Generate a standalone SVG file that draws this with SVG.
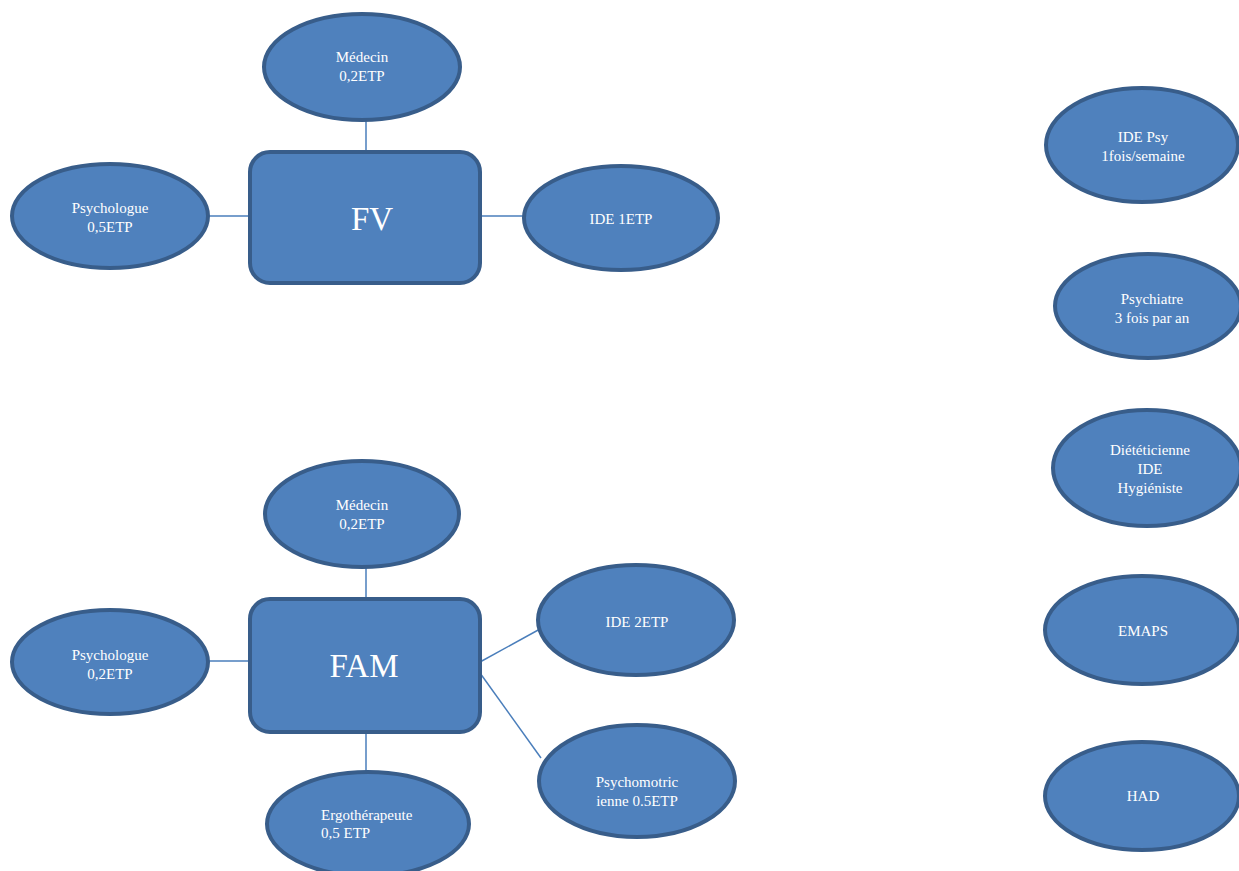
<svg xmlns="http://www.w3.org/2000/svg" width="1239" height="871" viewBox="0 0 1239 871">
<style>
.n{fill:#4f81bd;stroke:#385d8a;stroke-width:4}
.c{stroke:#4a7ebb;stroke-width:1.5;fill:none}
text{font-family:"Liberation Serif","Times New Roman",serif;fill:#fff;font-size:15px;text-anchor:middle}
.big{font-size:33px}
.l{text-anchor:start}
</style>
<rect width="1239" height="871" fill="#fff"/>
<g id="connectors">
<line class="c" x1="366" y1="120" x2="366" y2="152"/>
<line class="c" x1="209" y1="216" x2="250" y2="216"/>
<line class="c" x1="480" y1="216" x2="523" y2="216"/>
<line class="c" x1="366" y1="568" x2="366" y2="599"/>
<line class="c" x1="209" y1="661" x2="250" y2="661"/>
<line class="c" x1="480" y1="662" x2="540" y2="629"/>
<line class="c" x1="480" y1="673" x2="541" y2="758"/>
<line class="c" x1="366" y1="732" x2="366" y2="773"/>
</g>
<g id="fv"><rect class="n" x="250" y="152" width="230" height="131" rx="20"/><text class="big" x="372" y="230">FV</text></g>
<g id="fv-medecin"><ellipse class="n" cx="362" cy="67" rx="98" ry="53"/><text x="362" y="62">Médecin</text><text x="362" y="81">0,2ETP</text></g>
<g id="fv-psychologue"><ellipse class="n" cx="110" cy="216" rx="98" ry="52"/><text x="110" y="213">Psychologue</text><text x="110" y="232">0,5ETP</text></g>
<g id="fv-ide"><ellipse class="n" cx="621" cy="218" rx="97" ry="52"/><text x="621" y="224">IDE 1ETP</text></g>
<g id="fam"><rect class="n" x="250" y="599" width="230" height="133" rx="20"/><text class="big" x="364" y="677">FAM</text></g>
<g id="fam-medecin"><ellipse class="n" cx="362" cy="514" rx="97" ry="53"/><text x="362" y="510">Médecin</text><text x="362" y="529">0,2ETP</text></g>
<g id="fam-psychologue"><ellipse class="n" cx="110" cy="662" rx="98" ry="52"/><text x="110" y="660">Psychologue</text><text x="110" y="679">0,2ETP</text></g>
<g id="fam-ide"><ellipse class="n" cx="636" cy="620" rx="98" ry="55"/><text x="637" y="627">IDE 2ETP</text></g>
<g id="fam-psychomot"><ellipse class="n" cx="637" cy="781" rx="98" ry="56"/><text x="637" y="787">Psychomotric</text><text x="637" y="806">ienne 0.5ETP</text></g>
<g id="fam-ergo"><ellipse class="n" cx="368" cy="824" rx="101" ry="52"/><text class="l" x="321" y="820">Ergothérapeute</text><text class="l" x="321" y="838">0,5 ETP</text></g>
<g id="ide-psy"><ellipse class="n" cx="1142" cy="145" rx="96" ry="57"/><text x="1143" y="142">IDE Psy</text><text x="1143" y="161">1fois/semaine</text></g>
<g id="psychiatre"><ellipse class="n" cx="1148" cy="306" rx="93" ry="52"/><text x="1152" y="304">Psychiatre</text><text x="1152" y="323">3 fois par an</text></g>
<g id="dieteticienne"><ellipse class="n" cx="1147" cy="468" rx="94" ry="58"/><text x="1150" y="455">Diététicienne</text><text x="1150" y="474">IDE</text><text x="1150" y="493">Hygiéniste</text></g>
<g id="emaps"><ellipse class="n" cx="1142" cy="630" rx="97" ry="54"/><text x="1143" y="636">EMAPS</text></g>
<g id="had"><ellipse class="n" cx="1142" cy="796" rx="97" ry="54"/><text x="1143" y="801">HAD</text></g>
</svg>
